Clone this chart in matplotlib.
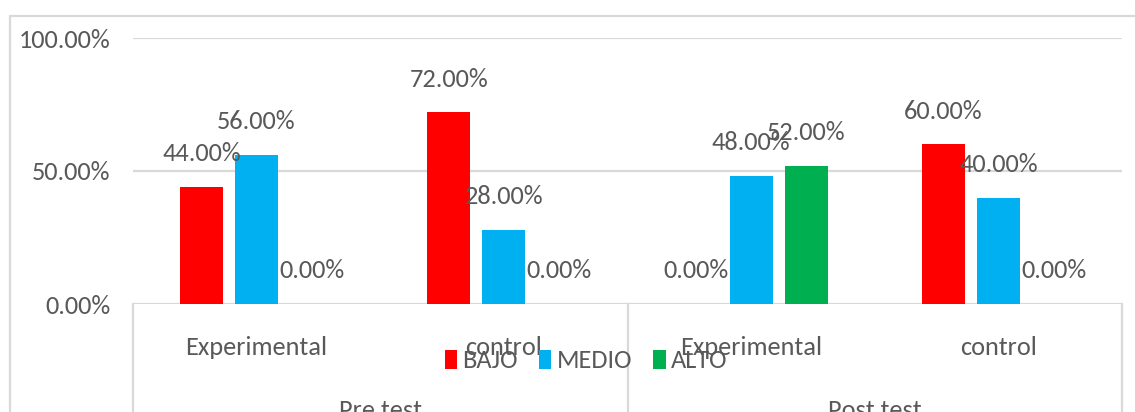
import matplotlib
matplotlib.use("Agg")
import matplotlib.pyplot as plt
import matplotlib.transforms as mtransforms
from matplotlib.lines import Line2D
from matplotlib.patches import Patch
import numpy as np

# ---- data ----
categories = ["Experimental", "control", "Experimental", "control"]
groups = ["Pre test", "Post test"]
series_names = ["BAJO", "MEDIO", "ALTO"]
bajo = [44.0, 72.0, 0.0, 60.0]
medio = [56.0, 28.0, 48.0, 40.0]
alto = [0.0, 0.0, 52.0, 0.0]
yticks = [0.0, 50.0, 100.0]

colors = ["#FF0000", "#00B0F0", "#00B050"]
txt = "#595959"
grid = "#D9D9D9"
FAM = ["Carlito", "DejaVu Sans"]
plt.rcParams["font.family"] = FAM
FS = 19

W, H = 1135, 412
fig = plt.figure(figsize=(W / 100, H / 100), dpi=100)

def fx(px):
    return px / W

def fy(py):
    return 1 - py / H

# axes placement
L, R, T, B = 133, 1122, 38, 304
ax = fig.add_axes([fx(L), fy(B), fx(R - L), (B - T) / H])

x = np.arange(len(categories))
bw = 0.174
step = 0.223
allvals = [bajo, medio, alto]
for k, (vals, c) in enumerate(zip(allvals, colors)):
    xs = x + (k - 1) * step
    ax.bar(xs, vals, width=bw, color=c, zorder=3)
    for xi, v in zip(xs, vals):
        ax.annotate(f"{v:.2f}%", xy=(xi, v), xytext=(0, 24),
                    textcoords="offset points", ha="center", va="center",
                    fontsize=FS, color=txt, annotation_clip=False, zorder=5)

ax.set_xlim(-0.5, len(categories) - 0.5)
ax.set_ylim(0, 100)
ax.set_yticks(yticks)
ax.set_yticklabels([f"{t:.2f}%" for t in yticks], fontsize=FS, color=txt)
ax.tick_params(axis="y", length=0, pad=16)
ax.set_xticks([])
for s in ax.spines.values():
    s.set_visible(False)
for t in yticks:
    ax.axhline(t, color=grid, lw=1.6, zorder=1)

# category axis box lines
trans = mtransforms.blended_transform_factory(ax.transData, ax.transAxes)
for xb in [-0.5, 1.5, 3.5]:
    ax.plot([xb, xb], [0, -1], color=grid, lw=1.6, transform=trans, clip_on=False, zorder=1)

for xi, lab in zip(x, categories):
    ax.annotate(lab, xy=(xi, 0), xycoords=trans, xytext=(0, -31),
                textcoords="offset points", ha="center", va="center",
                fontsize=FS, color=txt, annotation_clip=False)
for gi, g in enumerate(groups):
    ax.annotate(g, xy=(gi * 2 + 0.5, 0), xycoords=trans, xytext=(0, -77),
                textcoords="offset points", ha="center", va="center",
                fontsize=FS, color=txt, annotation_clip=False)

# outer chart border
fig.add_artist(Line2D([fx(10), fx(10), fx(1136)], [fy(420), fy(16), fy(16)],
                      color=grid, lw=1.6, transform=fig.transFigure))

handles = [Patch(facecolor=c, edgecolor="none") for c in colors]
leg = fig.legend(handles, series_names, loc="center", bbox_to_anchor=(fx(586), fy(361)),
                 ncol=3, frameon=False, fontsize=FS, handlelength=0.47, handleheight=0.73,
                 handletextpad=0.2, columnspacing=0.8, borderpad=0)
for t in leg.get_texts():
    t.set_color(txt)

fig.savefig("out.png", dpi=100)
